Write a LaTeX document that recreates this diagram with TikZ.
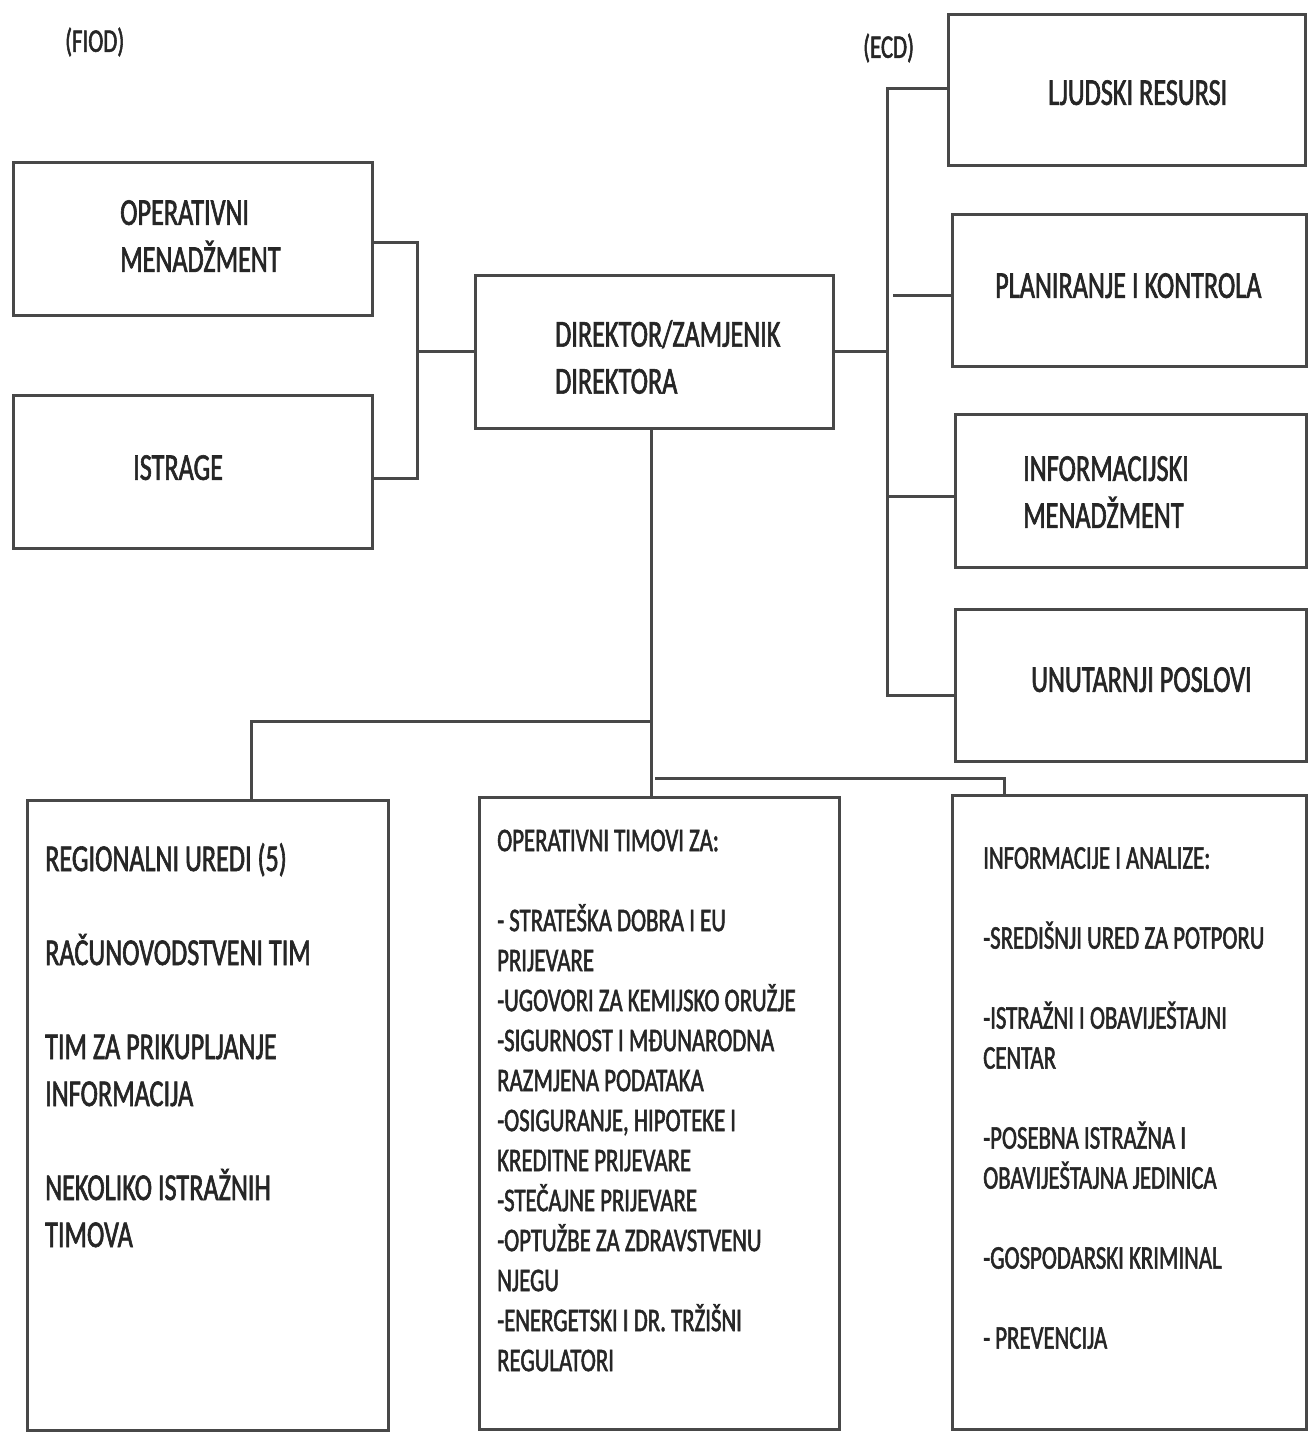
\documentclass[tikz,border=0pt]{standalone}
\usepackage{fontspec}
\newfontfamily\cf[FakeStretch=0.69,FakeBold=1.6]{Carlito}
\usetikzlibrary{calc}
\definecolor{ln}{HTML}{484848}
\definecolor{tx}{HTML}{262626}
\begin{document}
\begin{tikzpicture}[x=1pt,y=-1pt,
  box/.style={draw=ln,line width=3pt,inner sep=0pt,fill=none},
  conn/.style={draw=ln,line width=3pt},
  bigt/.style={font=\cf\fontsize{38}{47}\selectfont,text=tx,inner sep=0pt,anchor=north west,align=left},
  smallt/.style={font=\cf\fontsize{33}{40}\selectfont,text=tx,inner sep=0pt,anchor=north west,align=left},
  labt/.style={font=\cf\fontsize{33}{40}\selectfont,text=tx,inner sep=0pt,anchor=west}]
\useasboundingbox (0,0) rectangle (1308,1432);
\fill[white] (0,0) rectangle (1308,1432);

% labels
\node[labt] (fiod) at (65,42) {(FIOD)};
\node[labt] (ecd) at (863,48) {(ECD)};

% boxes
\node[box,minimum width=359pt,minimum height=153pt] (om) at (192.5,238.5) {};
\node[box,minimum width=359pt,minimum height=153pt] (ist) at (192.5,471.5) {};
\node[box,minimum width=358pt,minimum height=153pt] (dir) at (654,351.5) {};
\node[box,minimum width=357pt,minimum height=151pt] (lj) at (1126.5,89.5) {};
\node[box,minimum width=354pt,minimum height=152pt] (pl) at (1129,290) {};
\node[box,minimum width=351pt,minimum height=153pt] (im) at (1130.5,490.5) {};
\node[box,minimum width=351pt,minimum height=152pt] (un) at (1130.5,685.5) {};
\node[box,minimum width=361pt,minimum height=630pt] (reg) at (207.5,1115) {};
\node[box,minimum width=360pt,minimum height=632pt] (ops) at (659,1113) {};
\node[box,minimum width=354pt,minimum height=634pt] (inf) at (1129,1112) {};

% texts
\node[bigt] (tom) at (120,200) {OPERATIVNI\\MENADŽMENT};
\node[bigt] (tist) at (133,455) {ISTRAGE};
\node[bigt] (tdir) at (555,320) {DIREKTOR/ZAMJENIK\\DIREKTORA};
\node[bigt] (tlj) at (1048,80) {LJUDSKI RESURSI};
\node[bigt] (tpl) at (995,273) {PLANIRANJE I KONTROLA};
\node[bigt] (tim) at (1023,456) {INFORMACIJSKI\\MENADŽMENT};
\node[bigt] (tun) at (1031,667) {UNUTARNJI POSLOVI};
\node[bigt] (treg) at (45,843) {REGIONALNI UREDI (5)\\[47pt]
RAČUNOVODSTVENI TIM\\[47pt]
TIM ZA PRIKUPLJANJE\\INFORMACIJA\\[47pt]
NEKOLIKO ISTRAŽNIH\\TIMOVA};
\node[smallt] (tops) at (497,829.5) {OPERATIVNI TIMOVI ZA:\\[40pt]
- STRATEŠKA DOBRA I EU\\PRIJEVARE\\
-UGOVORI ZA KEMIJSKO ORUŽJE\\
-SIGURNOST I MĐUNARODNA\\RAZMJENA PODATAKA\\
-OSIGURANJE, HIPOTEKE I\\KREDITNE PRIJEVARE\\
-STEČAJNE PRIJEVARE\\
-OPTUŽBE ZA ZDRAVSTVENU\\NJEGU\\
-ENERGETSKI I DR. TRŽIŠNI\\REGULATORI};
\node[smallt] (tinf) at (983,847) {INFORMACIJE I ANALIZE:\\[40pt]
-SREDIŠNJI URED ZA POTPORU\\[40pt]
-ISTRAŽNI I OBAVIJEŠTAJNI\\CENTAR\\[40pt]
-POSEBNA ISTRAŽNA I\\OBAVIJEŠTAJNA JEDINICA\\[40pt]
-GOSPODARSKI KRIMINAL\\[40pt]
- PREVENCIJA};

% junctions
\coordinate (jl) at (417,351.5);
\coordinate (jr) at (887,351.5);
\coordinate (regtop) at ($(reg.north west)+(226,0)$);
\coordinate (rj) at (655,778);
\coordinate (inftop) at ($(inf.north west)+(54,0)$);

% left connectors
\draw[conn] ($(om.east)+(0,3.5)$) -| (jl) |- ($(ist.east)+(0,6.5)$);
\draw[conn] (jl) -- (dir.west);
% right connectors
\draw[conn] (dir.east) -- (jr);
\draw[conn] ($(lj.west)+(0,-1.5)$) -| (jr) |- ($(un.west)+(0,9.5)$);
\draw[conn] ($(jr |- pl.west)+(6,5)$) -- ($(pl.west)+(0,5)$);
\draw[conn] ($(jr |- im.west)+(0,5.5)$) -- ($(im.west)+(0,5.5)$);
% bottom connectors
\draw[conn] ($(dir.south)+(-3,0)$) -- ($(dir.south |- ops.north)+(-3,0)$);
\draw[conn] ($(dir.south |- 0,721)+(-3,0)$) -| (regtop);
\draw[conn] (rj) -| (inftop);
\end{tikzpicture}
\end{document}
